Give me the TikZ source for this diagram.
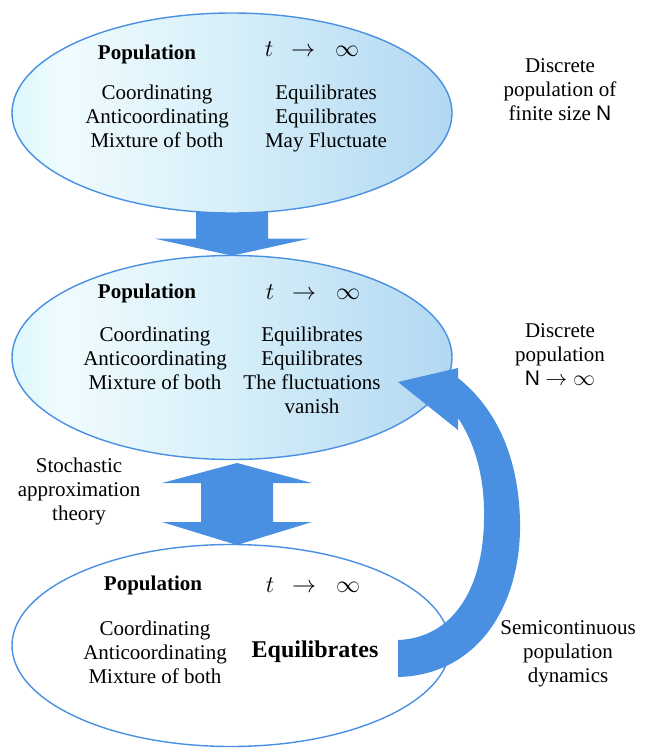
\documentclass[tikz,border=0pt]{standalone}
\usepackage{fontspec}
\setmainfont{Liberation Serif}
\setsansfont{Liberation Sans}
\usetikzlibrary{shapes.geometric,calc}
\definecolor{arrowblue}{HTML}{4A90E2}
\definecolor{edgeblue}{HTML}{4A90E2}
\definecolor{shA}{HTML}{DDF8FC}
\definecolor{shB}{HTML}{F0FBFE}
\definecolor{shC}{HTML}{D6EFF9}
\definecolor{shD}{HTML}{B2D8F2}
\pgfdeclarehorizontalshading{popshade}{100bp}{color(0bp)=(shA); color(25bp)=(shA); color(31bp)=(shB); color(50bp)=(shC); color(75bp)=(shD); color(100bp)=(shD)}
\pgfdeclarelayer{bg}
\pgfsetlayers{bg,main}
\tikzset{
  popell/.style={ellipse, draw=edgeblue, line width=0.7pt, inner sep=0pt},
  blockarrow/.style={fill=arrowblue, draw=none},
  txt/.style={anchor=base, align=center},
  mathlim/.style={anchor=base, font=\fontsize{12.5pt}{14pt}\selectfont},
}
\begin{document}
\begin{tikzpicture}[x=0.5pt,y=-0.5pt,
  every node/.style={font=\fontsize{10.5pt}{12pt}\selectfont, inner sep=0pt}]
\useasboundingbox (0,0) rectangle (646,749);

% ellipses
\node[popell, shading=popshade, minimum width=220pt, minimum height=100pt] (e1) at (232,113) {};
\node[popell, shading=popshade, minimum width=220pt, minimum height=102pt] (e2) at (232,357.5) {};
\node[popell, fill=white, minimum width=219pt, minimum height=101pt] (e3) at (231,645.5) {};

% block arrows behind
\begin{pgfonlayer}{bg}
\fill[blockarrow] ($(e1.south)+(-36,-13)$) -- ($(e1.south)+(36,-13)$) -- ($(e1.south)+(36,25)$)
  -- ($(e1.south)+(77,25)$) -- ($(e1.south)+(0,42)$) -- ($(e1.south)+(-77,25)$)
  -- ($(e1.south)+(-36,25)$) -- cycle;
\coordinate (dm) at ($(e2.south)!0.5!(e3.north)+(5.5,2)$);
\fill[blockarrow] ($(dm)+(0,-41)$) -- ($(dm)+(75,-21)$) -- ($(dm)+(36,-21)$) -- ($(dm)+(36,18)$)
  -- ($(dm)+(75,18)$) -- ($(dm)+(0,41)$) -- ($(dm)+(-75,18)$) -- ($(dm)+(-36,18)$)
  -- ($(dm)+(-36,-21)$) -- ($(dm)+(-75,-21)$) -- cycle;
\end{pgfonlayer}

% curved arrow from ellipse 3 to ellipse 2
\fill[blockarrow] (398,640) -- (398,677)
  .. controls (478,675) and (522,605) .. (520,520)
  .. controls (518,450) and (492,405) .. (458,378)
  -- (458,368) -- (398,382) -- (458,430) -- (458,418)
  .. controls (476,445) and (485,480) .. (484,520)
  .. controls (483,590) and (452,638) .. (398,640) -- cycle;

% ellipse 1 text (base anchor = last line baseline)
\node[txt] (p1) at (147,60) {\bfseries Population};
\node[mathlim] (m1) at (312,57) {$t$\hspace{9pt}$\rightarrow$\hspace{10pt}$\infty$};
\node[txt] (l1) at (157,148) {Coordinating\\Anticoordinating\\Mixture of both};
\node[txt] (r1) at (326,148) {Equilibrates\\Equilibrates\\May Fluctuate};

% ellipse 2 text
\node[txt] (p2) at (147,298) {\bfseries Population};
\node[mathlim] (m2) at (313,299) {$t$\hspace{9pt}$\rightarrow$\hspace{10pt}$\infty$};
\node[txt] (l2) at (155,389) {Coordinating\\Anticoordinating\\Mixture of both};
\node[txt] (r2) at (312,413) {Equilibrates\\Equilibrates\\The fluctuations\\vanish};

% ellipse 3 text
\node[txt] (p3) at (153,590) {\bfseries Population};
\node[mathlim] (m3) at (313,592) {$t$\hspace{9pt}$\rightarrow$\hspace{10pt}$\infty$};
\node[txt] (l3) at (155,683) {Coordinating\\Anticoordinating\\Mixture of both};
\node[txt, font=\fontsize{12pt}{14pt}\selectfont\bfseries] (r3) at (315,657) {Equilibrates};

% side labels
\node[txt] (s1) at (560,120) {Discrete\\population of\\finite size \textsf{N}};
\node[txt] (s2) at (560,385) {Discrete\\population\\\textsf{N} $\rightarrow\infty$};
\node[txt] (s3) at (79,520) {Stochastic\\approximation\\theory};
\node[txt] (s4) at (568,682) {Semicontinuous\\population\\dynamics};
\end{tikzpicture}
\end{document}
